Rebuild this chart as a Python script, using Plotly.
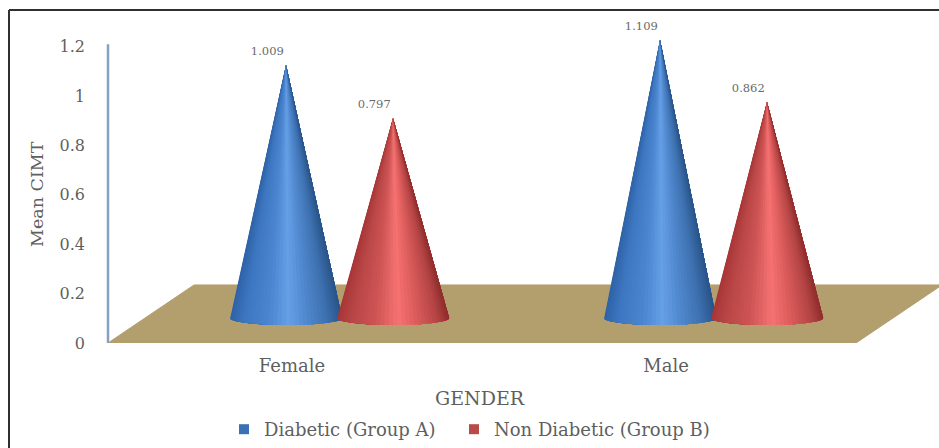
import math
import plotly.graph_objects as go

categories = ["Female", "Male"]
series_names = ["Diabetic (Group A)", "Non Diabetic (Group B)"]
diabetic = [1.009, 1.109]
non_diabetic = [0.797, 0.862]
y_ticks = [0, 0.2, 0.4, 0.6, 0.8, 1, 1.2]
y_tick_text = ["0", "0.2", "0.4", "0.6", "0.8", "1", "1.2"]

FONT = "DejaVu Serif"
GREY = "#5f5f5f"
W, H = 939, 448
PLOT_L, PLOT_T, PLOT_B = 100, 20, 343
X_FRONT_LEFT = -0.5
X_MIN = X_FRONT_LEFT - 8 / 374
X_MAX = (W - 108) / 374 - 0.5
Y_TOP = (PLOT_B - PLOT_T) / 247
TICK_SHIFT = -0.008

# 3-D look: floor depth and where the cones stand on it
DEPTH_X, DEPTH_Y = 0.23, 0.235
LIFT = 0.101
CLUSTER = 0.119
SPREAD = 0.143
HALF_W = 0.15
BASE_B = 0.028
HEIGHT_K = 1.015

BLUE = [(-1, "#2f62a6"), (-0.75, "#3d76c0"), (-0.3, "#4c86d0"), (0.05, "#659fe6"),
        (0.4, "#4f86cc"), (0.75, "#3c6fae"), (1, "#2a5488")]
RED = [(-1, "#a83636"), (-0.75, "#b84545"), (-0.3, "#cf5555"), (0.1, "#f77272"),
       (0.45, "#d95a5a"), (0.8, "#b44444"), (1, "#8f2d2d")]


def shade(stops, u):
    for (a, ca), (b, cb) in zip(stops, stops[1:]):
        if u <= b:
            t = (u - a) / (b - a)
            rgb = [round(int(ca[i:i + 2], 16) * (1 - t) + int(cb[i:i + 2], 16) * t) for i in (1, 3, 5)]
            return "rgb(%d,%d,%d)" % tuple(rgb)
    return stops[-1][1]


fig = go.Figure()

# floor
fig.add_trace(go.Scatter(
    x=[X_FRONT_LEFT, 1.5, 1.5 + DEPTH_X, X_FRONT_LEFT + DEPTH_X, X_FRONT_LEFT],
    y=[0, 0, DEPTH_Y, DEPTH_Y, 0],
    mode="lines", fill="toself", fillcolor="#b39f6e",
    line=dict(color="#b39f6e", width=1), showlegend=False, hoverinfo="skip"))


def cone(cat_i, offset, value, stops, n=40):
    cx = cat_i + CLUSTER + offset
    tip = LIFT + value * HEIGHT_K
    angles = [-math.pi / 2 + math.pi * i / n for i in range(n + 1)]
    # painted left to right: each layer reaches the right edge and the next one covers it
    for i in range(n):
        arc = angles[i:]
        col = shade(stops, math.sin((angles[i] + angles[i + 1]) / 2))
        fig.add_trace(go.Scatter(
            x=[cx] + [cx + HALF_W * math.sin(a) for a in arc] + [cx],
            y=[tip] + [LIFT - BASE_B * math.cos(a) for a in arc] + [tip],
            mode="lines", fill="toself", fillcolor=col,
            line=dict(width=0), showlegend=False, hoverinfo="skip"))
    return cx, tip


label_x, label_y, label_text = [], [], []
for i in range(len(categories)):
    for offset, vals, stops in ((-SPREAD, diabetic, BLUE), (SPREAD, non_diabetic, RED)):
        cx, tip = cone(i, offset, vals[i], stops)
        label_x.append(cx - 0.05)
        label_y.append(tip + 0.053)
        label_text.append(f"{vals[i]:.3f}")

# value labels
fig.add_trace(go.Scatter(
    x=label_x, y=label_y, text=label_text, mode="text", textposition="middle center",
    textfont=dict(family=FONT, size=11.5, color="#6a6a6a"), showlegend=False, hoverinfo="skip"))

# value axis line
fig.add_trace(go.Scatter(
    x=[X_FRONT_LEFT, X_FRONT_LEFT], y=[0, 1.21], mode="lines",
    line=dict(color="#86a0bf", width=2.5), showlegend=False, hoverinfo="skip"))

# legend entries, one legend each so they sit where the reference has them
for name, col, lg in zip(series_names, ("#3a70b4", "#b84a4a"), ("legend", "legend2")):
    fig.add_trace(go.Scatter(
        x=[None], y=[None], name=name, mode="markers", legend=lg,
        marker=dict(symbol="square", size=10, color=col)))

plot_w, plot_h = W - PLOT_L, PLOT_B - PLOT_T


def px_x(p):
    return (p - PLOT_L) / plot_w


def px_y(p):
    return (PLOT_B - p) / plot_h


legend_common = dict(orientation="h", xanchor="left", yanchor="top", y=1 - 411 / H,
                     xref="container", yref="container",
                     font=dict(family=FONT, size=18, color=GREY),
                     itemwidth=30, bgcolor="rgba(0,0,0,0)")

fig.update_layout(
    width=W, height=H, autosize=False,
    margin=dict(l=PLOT_L, r=0, t=PLOT_T, b=H - PLOT_B),
    paper_bgcolor="white", plot_bgcolor="white",
    font=dict(family=FONT, color=GREY, size=16),
    xaxis=dict(range=[X_MIN, X_MAX],
               tickvals=[i + TICK_SHIFT for i in range(len(categories))], ticktext=categories,
               showgrid=False, zeroline=False, showline=False, ticks="",
               tickfont=dict(family=FONT, size=18, color=GREY), ticklabelstandoff=10),
    yaxis=dict(range=[0, Y_TOP], tickvals=y_ticks, ticktext=y_tick_text,
               showgrid=False, zeroline=False, showline=False, ticks="",
               tickfont=dict(family=FONT, size=16, color=GREY), ticklabelstandoff=14),
    legend=dict(x=224 / W, **legend_common),
    legend2=dict(x=454 / W, **legend_common),
    annotations=[
        dict(text="Mean CIMT", x=px_x(37), y=px_y(194), xref="paper", yref="paper", showarrow=False,
             xanchor="center", yanchor="middle", textangle=-90,
             font=dict(family=FONT, size=17.5, color=GREY)),
        dict(text="GENDER", x=px_x(480), y=px_y(398), xref="paper", yref="paper", showarrow=False,
             xanchor="center", yanchor="middle", font=dict(family=FONT, size=19, color=GREY)),
    ],
)

# outer frame (left and top edges of the picture's border)
fig.add_shape(type="line", xref="paper", yref="paper",
              x0=px_x(9), x1=px_x(9), y0=px_y(H), y1=px_y(10),
              line=dict(color="#303030", width=2))
fig.add_shape(type="line", xref="paper", yref="paper",
              x0=px_x(9), x1=1, y0=px_y(10), y1=px_y(10),
              line=dict(color="#303030", width=2))

fig.write_html("out.html", config={"displayModeBar": False},
               post_script="document.body.style.margin='0';")
